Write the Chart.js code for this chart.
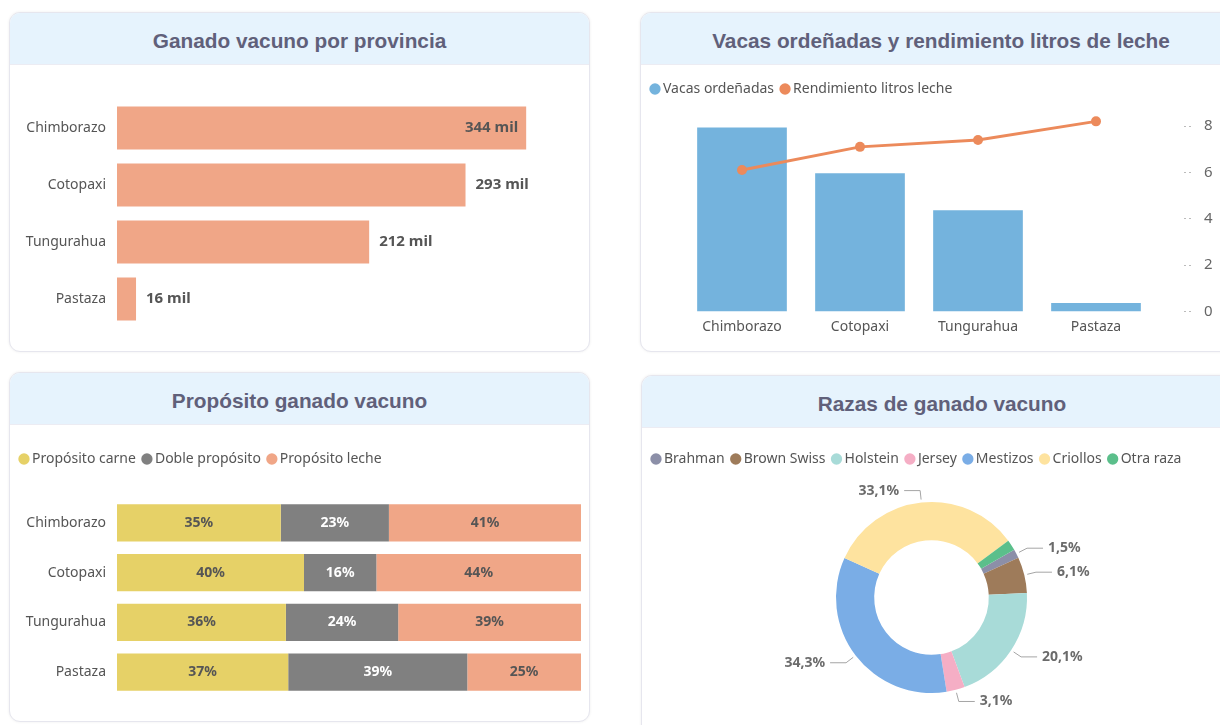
<!DOCTYPE html>
<html>
<head>
<meta charset="utf-8">
<script src="https://cdn.jsdelivr.net/npm/chart.js@4.4.1/dist/chart.umd.min.js"></script>
<style>
  body { margin: 0; width: 1220px; height: 725px; overflow: hidden; position: relative; background: #fff; font-family: "Noto Sans", sans-serif; }
  .card { position: absolute; background: #fff; border: 1px solid #e6e6ee; border-radius: 11px; box-shadow: 0 0 3px rgba(0,0,0,0.07); overflow: hidden; }
  .card h2 { margin: 0; height: 51px; background: #e6f3fd; border-bottom: 1px solid #ececf3; text-align: center; font: bold 20.8px "Liberation Sans", Arial, sans-serif; line-height: 55px; color: #60607a; }
  .card canvas { display: block; }
</style>
</head>
<body>

<div class="card" style="left:9px;top:12px;width:579px;height:338px;">
  <h2>Ganado vacuno por provincia</h2>
  <canvas id="provChart" width="579" height="286"></canvas>
</div>

<div class="card" style="left:640px;top:12px;width:600px;height:338px;">
  <h2>Vacas ordeñadas y rendimiento litros de leche</h2>
  <canvas id="lecheChart" width="579" height="286"></canvas>
</div>

<div class="card" style="left:9px;top:372px;width:579px;height:348px;">
  <h2>Propósito ganado vacuno</h2>
  <canvas id="propChart" width="579" height="296"></canvas>
</div>

<div class="card" style="left:641px;top:375px;width:600px;height:370px;">
  <h2>Razas de ganado vacuno</h2>
  <canvas id="razaChart" width="578" height="297"></canvas>
</div>

<script>
// datos
const provincias = ["Chimborazo", "Cotopaxi", "Tungurahua", "Pastaza"];
const ganadoMil = [344, 293, 212, 16];

const vacasOrdenadas = [79.4, 59.6, 43.7, 3.7];   // miles
const rendimientoLitros = [6.1, 7.1, 7.4, 8.2];
const rendTicks = [0, 2, 4, 6, 8];

const propCarne = [35.3, 40.3, 36.4, 36.9];
const propDoble = [23.3, 15.6, 24.2, 38.6];
const propLeche = [41.4, 44.1, 39.4, 24.5];

const razas = ["Brahman", "Brown Swiss", "Holstein", "Jersey", "Mestizos", "Criollos", "Otra raza"];
const razaPct = [1.5, 6.1, 20.1, 3.1, 34.3, 33.1, 1.8];
const razaEtiqueta = [true, true, true, true, true, true, false];
const razaColores = ["#8c8fa8", "#9e7b5a", "#a8dbd8", "#f5aec5", "#7aade6", "#fee39f", "#5bbf8b"];

Chart.defaults.font.family = '"Noto Sans", sans-serif';
Chart.defaults.font.size = 14;
Chart.defaults.color = "#555";
Chart.defaults.animation = false;
Chart.defaults.responsive = false;
Chart.defaults.plugins.tooltip.enabled = false;

// extra space under the legend
const legendGap = gap => ({
  id: "legendGap",
  beforeInit(chart) {
    const fit = chart.legend.fit;
    chart.legend.fit = function () {
      fit.call(this);
      this.height += gap;
    };
  }
});

const legendLabels = {
  usePointStyle: true,
  pointStyle: "circle",
  boxWidth: 2,
  boxHeight: 8,
  padding: 10,
  color: "#555",
  font: { size: 14 }
};

// 1) Ganado vacuno por provincia
new Chart(document.getElementById("provChart"), {
  type: "bar",
  data: {
    labels: provincias,
    datasets: [{
      data: ganadoMil,
      backgroundColor: "#f0a687",
      barPercentage: 0.755,
      categoryPercentage: 1
    }]
  },
  options: {
    indexAxis: "y",
    layout: { padding: { top: 34.5, bottom: 23.5, right: 20, left: 0 } },
    plugins: { legend: { display: false } },
    scales: {
      x: { display: false, min: 0, max: 380 },
      y: {
        grid: { display: false, drawTicks: false },
        border: { display: false },
        ticks: { padding: 11, color: "#555" },
        afterFit(scale) { scale.width = 107; }
      }
    }
  },
  plugins: [{
    id: "provLabels",
    afterDatasetsDraw(chart) {
      const ctx = chart.ctx;
      const meta = chart.getDatasetMeta(0);
      ctx.save();
      ctx.font = 'bold 15px "Noto Sans"';
      ctx.fillStyle = "#555";
      ctx.textBaseline = "middle";
      meta.data.forEach((bar, i) => {
        const txt = ganadoMil[i] + " mil";
        const w = ctx.measureText(txt).width;
        if (bar.x + 10 + w > chart.chartArea.right) {
          ctx.textAlign = "right";
          ctx.fillText(txt, bar.x - 8, bar.y);
        } else {
          ctx.textAlign = "left";
          ctx.fillText(txt, bar.x + 10, bar.y);
        }
      });
      ctx.restore();
    }
  }]
});

// 2) Vacas ordeñadas y rendimiento
new Chart(document.getElementById("lecheChart"), {
  type: "bar",
  data: {
    labels: provincias,
    datasets: [{
      type: "bar",
      label: "Vacas ordeñadas",
      data: vacasOrdenadas,
      backgroundColor: "#74b3dd",
      barPercentage: 0.76,
      categoryPercentage: 1,
      yAxisID: "y",
      order: 1
    }, {
      type: "line",
      label: "Rendimiento litros leche",
      data: rendimientoLitros,
      borderColor: "#ec8a5b",
      backgroundColor: "#ec8a5b",
      borderWidth: 3,
      pointRadius: 5,
      pointBorderWidth: 0,
      clip: false,
      yAxisID: "y1",
      order: 0
    }]
  },
  options: {
    layout: { padding: { top: 7, bottom: 9.5, left: 3, right: 0 } },
    plugins: {
      legend: {
        align: "start",
        labels: { ...legendLabels, sort: (a, b) => a.datasetIndex - b.datasetIndex }
      }
    },
    scales: {
      x: {
        grid: { display: false, drawTicks: false },
        border: { display: false },
        ticks: { padding: 7, color: "#555" },
        afterFit(scale) { scale.height = 30; }
      },
      y: {
        min: 0, max: 80,
        grid: { display: false },
        border: { display: false },
        ticks: { display: false },
        afterFit(scale) { scale.width = 39; }
      },
      y1: {
        position: "right",
        min: 0, max: 8,
        grid: { drawOnChartArea: false, drawTicks: true, tickLength: 37, tickColor: "#bbb", tickBorderDash: [0, 29, 2, 3, 2, 100] },
        border: { display: false },
        ticks: { padding: 12, color: "#666", font: { size: 15 } },
        afterBuildTicks(scale) { scale.ticks = rendTicks.map(v => ({ value: v })); },
        afterFit(scale) { scale.width = 65; }
      }
    }
  },
  plugins: [legendGap(20)]
});

// 3) Propósito ganado vacuno
const propSeries = [
  { label: "Propósito carne", data: propCarne, color: "#e6d167", text: "#555" },
  { label: "Doble propósito", data: propDoble, color: "#808080", text: "#fff" },
  { label: "Propósito leche", data: propLeche, color: "#f0a687", text: "#555" }
];

new Chart(document.getElementById("propChart"), {
  type: "bar",
  data: {
    labels: provincias,
    datasets: propSeries.map(s => ({
      label: s.label,
      data: s.data,
      backgroundColor: s.color,
      barPercentage: 0.745,
      categoryPercentage: 1
    }))
  },
  options: {
    indexAxis: "y",
    layout: { padding: { top: 17, bottom: 24, left: 3, right: 8 } },
    plugins: { legend: { align: "start", labels: legendLabels } },
    scales: {
      x: { display: false, stacked: true, min: 0, max: 100 },
      y: {
        stacked: true,
        grid: { display: false, drawTicks: false },
        border: { display: false },
        ticks: { padding: 11, color: "#555" },
        afterFit(scale) { scale.width = 104; }
      }
    }
  },
  plugins: [legendGap(22), {
    id: "propLabels",
    afterDatasetsDraw(chart) {
      const ctx = chart.ctx;
      ctx.save();
      ctx.font = 'bold 14px "Noto Sans"';
      ctx.textAlign = "center";
      ctx.textBaseline = "middle";
      propSeries.forEach((s, di) => {
        chart.getDatasetMeta(di).data.forEach((bar, i) => {
          ctx.fillStyle = s.text;
          ctx.fillText(Math.round(s.data[i]) + "%", (bar.x + bar.base) / 2, bar.y);
        });
      });
      ctx.restore();
    }
  }]
});

// 4) Razas de ganado vacuno
new Chart(document.getElementById("razaChart"), {
  type: "doughnut",
  data: {
    labels: razas,
    datasets: [{
      data: razaPct,
      backgroundColor: razaColores,
      borderWidth: 0
    }]
  },
  options: {
    rotation: 60,
    radius: 95.5,
    cutout: "60%",
    layout: { padding: { top: 14, bottom: 6, left: 3, right: 2 } },
    plugins: { legend: { align: "start", labels: legendLabels } }
  },
  plugins: [{
    id: "razaLabels",
    afterDatasetsDraw(chart) {
      const ctx = chart.ctx;
      const meta = chart.getDatasetMeta(0);
      ctx.save();
      ctx.font = 'bold 14px "Noto Sans"';
      ctx.textBaseline = "middle";
      ctx.strokeStyle = "#a5a5a5";
      ctx.fillStyle = "#6b6b6b";
      ctx.lineWidth = 1;
      meta.data.forEach((arc, i) => {
        if (!razaEtiqueta[i]) return;
        const mid = (arc.startAngle + arc.endAngle) / 2;
        const r = arc.outerRadius;
        const c = Math.cos(mid), s = Math.sin(mid);
        const x0 = arc.x + c * (r + 3), y0 = arc.y + s * (r + 3);
        const x1 = arc.x + c * (r + 12), y1 = arc.y + s * (r + 12);
        const right = c >= 0;
        const x2 = x1 + (right ? 16 : -16);
        ctx.beginPath();
        ctx.moveTo(x0, y0);
        ctx.lineTo(x1, y1);
        ctx.lineTo(x2, y1);
        ctx.stroke();
        ctx.textAlign = right ? "left" : "right";
        const txt = razaPct[i].toFixed(1).replace(".", ",") + "%";
        ctx.fillText(txt, x2 + (right ? 5 : -5), y1);
      });
      ctx.restore();
    }
  }]
});
</script>
</body>
</html>
